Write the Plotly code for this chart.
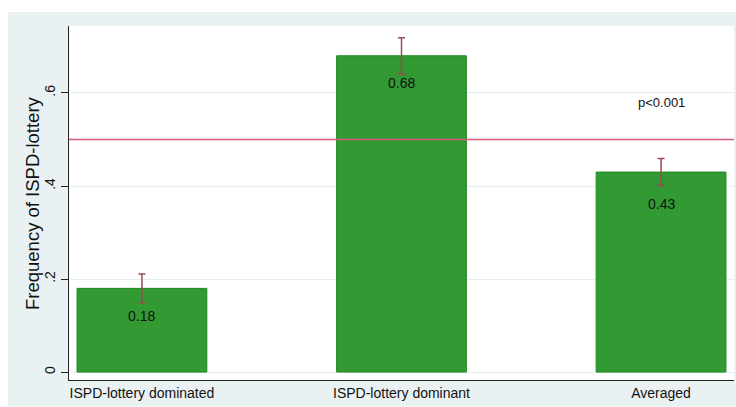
import plotly.graph_objects as go

# Share of subjects choosing the ISPD-lottery, by condition
categories = ["ISPD-lottery dominated", "ISPD-lottery dominant", "Averaged"]
frequency = [0.18, 0.68, 0.43]
ci_half_width = [0.031, 0.039, 0.029]
label_y = [0.120, 0.621, 0.361]   # vertical placement of the value labels
y_tick_vals = [0, 0.2, 0.4, 0.6]
y_tick_text = ["0", ".2", ".4", ".6"]
reference_level = 0.5
p_value_text = "p<0.001"
y_title = "Frequency of ISPD-lottery"

FONT = "Liberation Sans, Arial, sans-serif"
GREEN = "#339933"
GREEN_EDGE = "#1f8a1f"
ERR = "#9c4a52"
REF = "#d65c7a"
BG = "#eaf1f3"

fig = go.Figure()
fig.add_trace(go.Bar(
    x=categories,
    y=frequency,
    width=0.5,
    marker=dict(color=GREEN, line=dict(color=GREEN_EDGE, width=1)),
    error_y=dict(type="data", array=ci_half_width, visible=True,
                 color=ERR, thickness=1.5, width=3.5),
    hoverinfo="skip",
))

# value labels inside the bars
for cat, val, ly in zip(categories, frequency, label_y):
    fig.add_annotation(x=cat, y=ly, text=f"{val:.2f}", showarrow=False,
                       font=dict(family=FONT, size=14, color="#111111"))

fig.add_annotation(x=categories[2], y=0.579, text=p_value_text, showarrow=False,
                   font=dict(family=FONT, size=13, color="#111111"))

# vertical axis title
fig.add_annotation(xref="paper", yref="paper", x=-0.0556, y=0.5,
                   text=y_title, textangle=-90, showarrow=False,
                   xanchor="center", yanchor="middle",
                   font=dict(family=FONT, size=18.5, color="#111111"))

# outer panel and white plot region
fig.add_shape(type="rect", xref="paper", yref="paper",
              x0=-0.0917, x1=1.01, y0=-0.075, y1=1.0395,
              fillcolor=BG, line=dict(width=0), layer="below")
fig.add_shape(type="rect", xref="paper", yref="paper",
              x0=0, x1=1, y0=0, y1=1,
              fillcolor="white", line=dict(width=0), layer="below")

# chance level
fig.add_shape(type="line", xref="paper", yref="y", x0=0, x1=1,
              y0=reference_level, y1=reference_level,
              line=dict(color=REF, width=1.6))

fig.update_layout(
    width=736, height=407,
    margin=dict(l=69, r=2, t=26, b=27),
    paper_bgcolor="white",
    plot_bgcolor="white",
    showlegend=False,
    font=dict(family=FONT, color="#111111"),
    xaxis=dict(
        range=[-0.281, 2.281],
        showline=True, linecolor="#222222", linewidth=1,
        ticks="", showgrid=False,
        tickfont=dict(family=FONT, size=14, color="#111111"),
    ),
    yaxis=dict(
        range=[-0.017, 0.744],
        tickvals=y_tick_vals, ticktext=y_tick_text,
        tickangle=-90,
        ticks="outside", ticklen=7, tickcolor="#222222",
        showline=True, linecolor="#222222", linewidth=1,
        showgrid=True, gridcolor="#e6eef1", gridwidth=1,
        zeroline=False,
        tickfont=dict(family=FONT, size=14, color="#111111"),
    ),
)

fig.write_html("out.html")
